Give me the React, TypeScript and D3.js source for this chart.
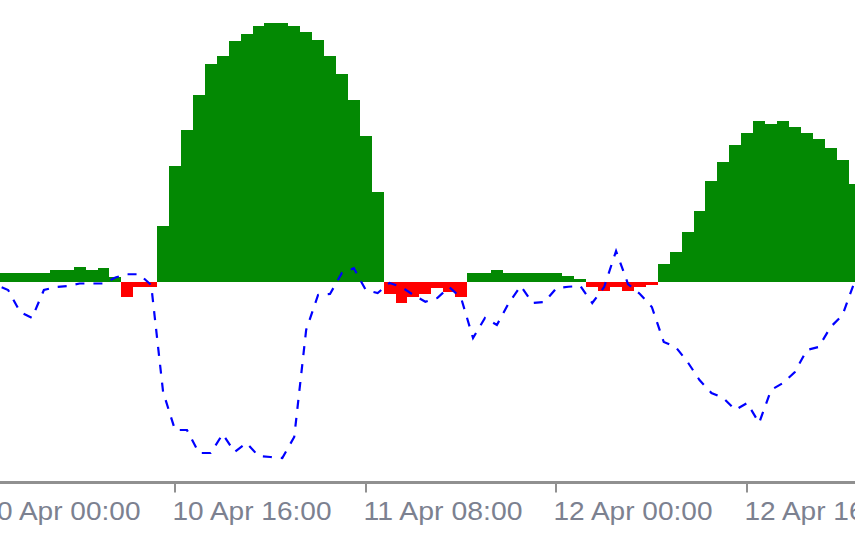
import React from "react";
import * as d3 from "d3";

// Hour offsets from 10 Apr 00:00 (UTC), one bar per hour
const hours: number[] = d3.range(0, 74);

// Histogram values (positive = green, negative = red)
const histValues: number[] = [
  3.5, 3.5, 3.5, 3.5, 3.5, 3.5, 4.8, 4.8, 5.9, 4.7,
  5.7, 2.1, -5.9, -2.1, -2.1, 22.5, 46.3, 60.7, 74.8, 87.1,
  90.4, 96.5, 99.1, 102.5, 103.5, 103.5, 102.5, 100, 96.7, 90.4,
  83.3, 72.8, 58.4, 35.9, -4.8, -8.4, -5.9, -4.8, -2.4, -3.9,
  -5.9, 3.5, 3.5, 4.7, 3.5, 3.5, 3.5, 3.5, 3.5, 2.4,
  1.1, -1.9, -3.5, -1.9, -3.5, -1.9, -1.2, 7.2, 11.9, 20.1,
  28.5, 40.5, 47.9, 54.7, 59.5, 64.3, 63.2, 64.3, 61.9, 59.5,
  57.1, 53.5, 48.7, 39.1,
];

// Dashed signal line values
const lineValues: number[] = [
  -0.4, -1.2, -3.2, -12, -14.4, -3.2, -2, -1.6, -0.6, -0.6,
  -0.6, 1.8, 3.1, 3.1, -1.2, -44, -59.2, -59.2, -68.4, -68.4,
  -60.8, -68, -64.4, -69.6, -70, -70.4, -62, -19.2, -5.2, -4.8,
  3.6, 5.5, -3.2, -4.4, -0.4, -2, -5.2, -7.9, -6.4, -2,
  -6.4, -22.4, -14.4, -17.2, -8.4, -1.6, -8.4, -8, -2.4, -1.9,
  -1.6, -8.4, -2, 12.4, -0.8, -4.8, -10, -24, -26, -32,
  -39.2, -44.4, -46.4, -51.2, -48.4, -56.4, -43.2, -40.4, -36, -27.2,
  -26, -18, -13.2, 0,
];

// Axis ticks (every 16 hours) and their labels
const tickHours: number[] = [0, 16, 32, 48, 64];
const tickLabels: string[] = [
  "10 Apr 00:00",
  "10 Apr 16:00",
  "11 Apr 08:00",
  "12 Apr 00:00",
  "12 Apr 16:00",
];

const W = 855;
const H = 534;
const start = Date.UTC(2024, 3, 10, 0, 0);
const HOUR = 3600 * 1000;

export default function App() {
  React.useEffect(() => {
    document.body.style.margin = "0";
  }, []);

  const x = d3
    .scaleTime()
    .domain([new Date(start), new Date(start + 64 * HOUR)])
    .range([-15.7, 747.2]);
  const y = d3.scaleLinear().domain([0, 100]).range([282, 32]);

  const t = (h: number) => new Date(start + h * HOUR);

  const line = d3
    .line<number>()
    .x((_, i) => x(t(hours[i])))
    .y((d) => y(d));

  const axisY = 482.5;

  return (
    <svg
      width={W}
      height={H}
      style={{ display: "block", position: "absolute", left: 0, top: 0, background: "#ffffff" }}
    >
      <rect x={0} y={0} width={W} height={H} fill="#ffffff" />
      <g shapeRendering="crispEdges">
        {hours.map((h, i) => {
          const v = histValues[i];
          const xa = Math.round(x(t(h - 0.5)));
          const xb = Math.round(x(t(h + 0.5)));
          const y0 = Math.round(y(0));
          const y1 = Math.round(y(v));
          return (
            <rect
              key={h}
              x={xa}
              width={xb - xa}
              y={Math.min(y0, y1)}
              height={Math.abs(y1 - y0)}
              fill={v >= 0 ? "#038903" : "#ff0000"}
            />
          );
        })}
      </g>
      <path
        d={line(lineValues) || ""}
        fill="none"
        stroke="#0000ff"
        strokeWidth={2.2}
        strokeDasharray="9 9"
      />
      <line x1={0} x2={W} y1={axisY} y2={axisY} stroke="#909090" strokeWidth={3} />
      {tickHours.map((h, i) => {
        const tx = Math.round(x(t(h)));
        return (
          <g key={h}>
            <line x1={tx} x2={tx} y1={axisY} y2={492.5} stroke="#909090" strokeWidth={2} />
            <text
              x={tx - 2.5}
              y={520}
              fontFamily="'Liberation Sans', Arial, sans-serif"
              fontSize={25}
              fill="#7c8190"
              textLength={159}
              lengthAdjust="spacingAndGlyphs"
            >
              {tickLabels[i]}
            </text>
          </g>
        );
      })}
    </svg>
  );
}
